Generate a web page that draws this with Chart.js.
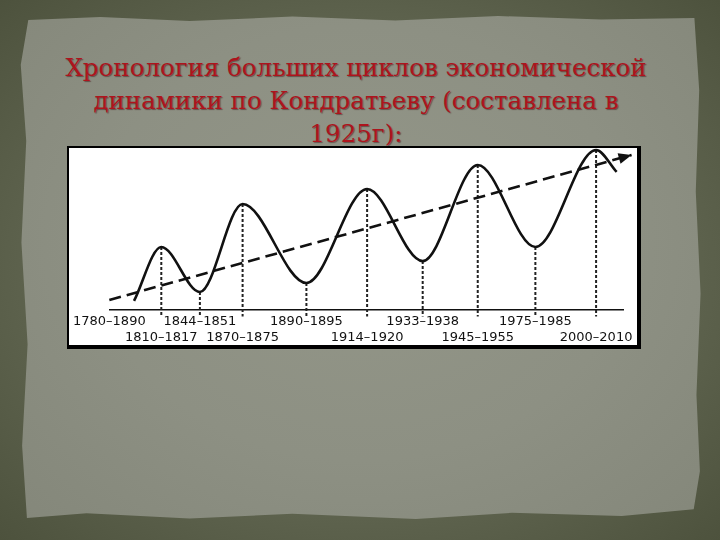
<!DOCTYPE html>
<html>
<head>
<meta charset="utf-8">
<script src="https://cdn.jsdelivr.net/npm/chart.js@4/dist/chart.umd.min.js"></script>
<style>
html,body{margin:0;padding:0;width:720px;height:540px;overflow:hidden;}
body{position:relative;background:radial-gradient(ellipse at 50% 50%,#6a6f5a 0%,#5d624d 65%,#4d523d 100%);}
#panel{position:absolute;left:18px;top:14px;width:686px;height:508px;
 background:radial-gradient(ellipse at 50% 45%,#939688 0%,#8d9083 55%,#84877a 100%);
 clip-path:polygon(1.5% 1.2%,12% 0.6%,25% 1.4%,40% 0.5%,55% 1.3%,70% 0.4%,85% 1.1%,98.6% 0.8%,99.3% 15%,98.8% 35%,99.5% 55%,98.9% 75%,99.4% 90%,98.5% 97.5%,88% 98.8%,72% 98.2%,58% 99.4%,40% 98.4%,25% 99.3%,10% 98.3%,1.3% 99.2%,0.6% 85%,1.4% 65%,0.5% 45%,1.2% 25%,0.4% 10%);}
#title{position:absolute;left:0;top:51px;width:712px;text-align:center;
 font-family:"DejaVu Serif",serif;font-size:24.5px;line-height:33px;color:#ad141d;
 text-shadow:1px 1px 1px rgba(50,0,0,0.45);}
#box{position:absolute;left:67px;top:146px;width:574px;height:203px;box-sizing:border-box;
 border-style:solid;border-color:#000;border-width:2px 4px 4px 2px;background:#fff;}
#box canvas{display:block;}
</style>
</head>
<body>
<div id="panel"></div>
<div id="title">Хронология больших циклов экономической<br>динамики по Кондратьеву (составлена в<br>1925г):</div>
<div id="box"><canvas id="c" width="568" height="197"></canvas></div>
<script>
// Turning points of the long waves (peaks and troughs), abstract position / level units
const turnX = [10.1, 17.6, 25.9, 38.3, 50.1, 60.9, 71.6, 82.8, 94.6];
const turnY = [38.9, 11.1, 65.4, 16.7, 74.7, 30.2, 89.5, 38.9, 98.8];
// Curve start and end
const startX = 4.8, startY = 5.6;
const endX = 98.6, endY = 85.2;
// Trend line (dashed arrow)
const trendX = [0, 101.5];
const trendY = [6.2, 95.7];
// Period labels on the time axis
const labelX = [0, 10.1, 17.6, 25.9, 38.3, 50.1, 60.9, 71.6, 82.8, 94.6];
const periodLabels = ["1780–1890", "1810–1817", "1844–1851", "1870–1875", "1890–1895",
                      "1914–1920", "1933–1938", "1945–1955", "1975–1985", "2000–2010"];
const labelRow = [1, 2, 1, 2, 1, 2, 1, 2, 1, 2];
const dropToY = -4;

const curveX = [startX, ...turnX, endX];
const curveY = [startY, ...turnY, endY];

const datasets = [
  {
    data: curveX.map((x, i) => ({x, y: curveY[i]})),
    borderColor: '#111', borderWidth: 2.6, pointRadius: 0,
    cubicInterpolationMode: 'monotone', fill: false, clip: false
  },
  {
    data: trendX.map((x, i) => ({x, y: trendY[i]})),
    borderColor: '#111', borderWidth: 2.6, borderDash: [12, 6], pointRadius: 0,
    tension: 0, fill: false, clip: false
  }
];
turnX.forEach((x, i) => {
  datasets.push({
    data: [{x, y: turnY[i]}, {x, y: dropToY}],
    borderColor: '#222', borderWidth: 2, borderDash: [3, 2], pointRadius: 0,
    tension: 0, fill: false, clip: false
  });
});

const arrowPlugin = {
  id: 'arrowHead',
  afterDatasetsDraw(chart) {
    const pts = chart.getDatasetMeta(1).data;
    const a = pts[pts.length - 2], b = pts[pts.length - 1];
    const ang = Math.atan2(b.y - a.y, b.x - a.x);
    const ctx = chart.ctx;
    ctx.save();
    ctx.translate(b.x, b.y);
    ctx.rotate(ang);
    ctx.beginPath();
    ctx.moveTo(0, 0);
    ctx.lineTo(-13, -5.5);
    ctx.lineTo(-13, 5.5);
    ctx.closePath();
    ctx.fillStyle = '#111';
    ctx.fill();
    ctx.restore();
  }
};

new Chart(document.getElementById('c'), {
  type: 'line',
  data: {datasets},
  options: {
    responsive: false,
    animation: false,
    events: [],
    layout: {padding: {left: 39, right: 12, top: 0, bottom: 0}},
    plugins: {legend: {display: false}, tooltip: {enabled: false}, title: {display: false}},
    scales: {
      x: {
        type: 'linear', min: 0, max: 100,
        afterBuildTicks: s => { s.ticks = labelX.map(v => ({value: v})); },
        afterFit: s => { s.height = 35; },
        grid: {display: false, drawTicks: false},
        border: {display: true, color: '#111', width: 1.5},
        ticks: {
          autoSkip: false, maxRotation: 0, minRotation: 0, padding: 4,
          color: '#111',
          font: {family: '"DejaVu Sans", sans-serif', size: 13, lineHeight: 1.2},
          callback: (v, i) => labelRow[i] === 1 ? [periodLabels[i]] : ['', periodLabels[i]]
        }
      },
      y: {type: 'linear', min: 0, max: 100, display: false}
    }
  },
  plugins: [arrowPlugin]
});
</script>
</body>
</html>
